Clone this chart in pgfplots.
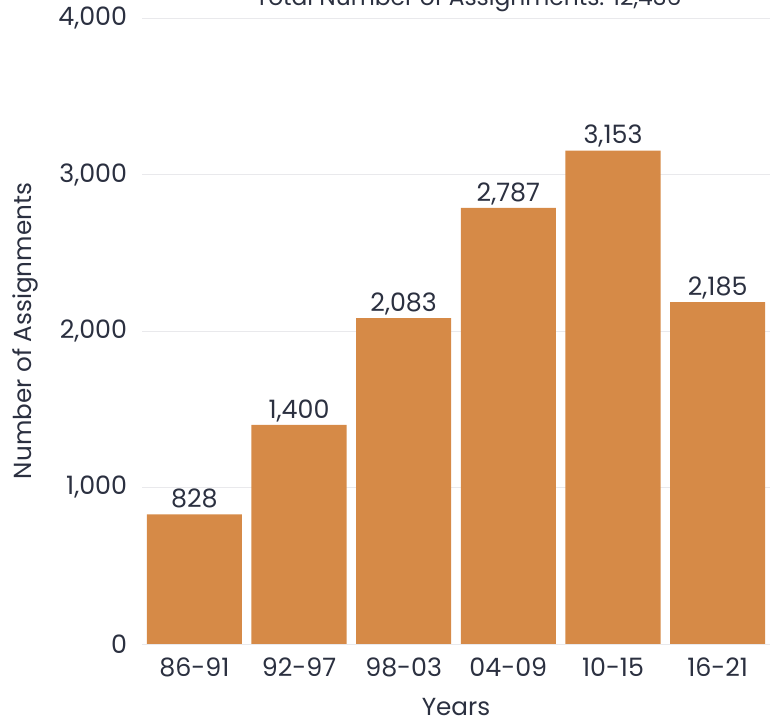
\documentclass[border=0pt]{standalone}
\usepackage{fontspec}
\setmainfont{Poppins}
\usepackage{pgfplots}
\pgfplotsset{compat=1.18}
\definecolor{barc}{HTML}{D68A47}
\definecolor{txt}{HTML}{2B3040}
\definecolor{gridc}{HTML}{E9E9EC}
\begin{document}
\begin{tikzpicture}
\begin{axis}[
  scale only axis,
  width=471pt, height=469.5pt,
  xmin=-0.5, xmax=5.5,
  ymin=0, ymax=4000,
  axis line style={draw=none},
  major tick length=0pt,
  ymajorgrids,
  grid style={gridc, line width=0.6pt},
  ytick={0,1000,2000,3000,4000},
  xtick={0,1,2,3,4,5},
  xticklabels={86-91,92-97,98-03,04-09,10-15,16-21},
  /pgf/number format/1000 sep={,},
  /pgf/number format/assume math mode=true,
  tick label style={font=\fontsize{19}{22}\selectfont, color=txt},
  yticklabel style={inner sep=0pt, xshift=-11pt},
  xticklabel style={inner sep=0pt, yshift=-10pt},
  xlabel={Years},
  ylabel={Number of Assignments},
  label style={font=\fontsize{18.5}{22}\selectfont, color=txt},
  xlabel style={at={(axis description cs:0.5,-0.1005)}, anchor=center},
  ylabel style={at={(axis description cs:-0.186,0.5)}, anchor=center},
  title={Total Number of Assignments: 12,436},
  title style={font=\fontsize{17.5}{21}\selectfont, color=txt,
    at={(axis description cs:0.52,1.007)}, anchor=base, yshift=0pt},
]
\addplot[ybar, bar width=71.25pt, fill=barc, draw=none,
  nodes near coords,
  nodes near coords style={font=\fontsize{19}{22}\selectfont, color=txt,
    anchor=base, inner sep=0pt, yshift=5pt}]
  coordinates {(0,828) (1,1400) (2,2083) (3,2787) (4,3153) (5,2185)};
\coordinate (bl) at (rel axis cs:0,0);
\coordinate (tr) at (rel axis cs:1,1);
\end{axis}
\pgfresetboundingbox
\path[use as bounding box] ([xshift=-106.5pt,yshift=-57.75pt]bl) rectangle ([yshift=13.5pt]tr);
\end{tikzpicture}
\end{document}
